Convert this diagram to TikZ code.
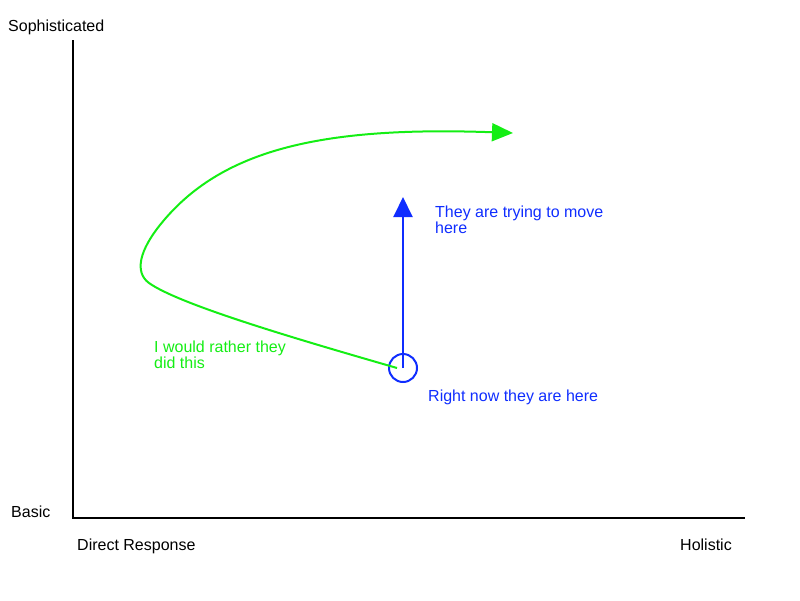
\documentclass[tikz,border=0pt]{standalone}
\usepackage{fontspec}
\setmainfont{Liberation Sans}
\usetikzlibrary{arrows.meta}
\definecolor{myblue}{RGB}{15,45,255}
\definecolor{mygreen}{RGB}{20,238,20}
\tikzset{
  lbl/.style={anchor=base west, inner sep=0pt, font=\fontsize{16}{16.5}\selectfont, align=left},
  axis/.style={line width=2pt, black},
  bluearrow/.style={line width=2pt, myblue, -{Triangle[length=20pt, width=19pt]}},
  greenarrow/.style={line width=2pt, mygreen, -{Triangle[length=21pt, width=18pt]}},
  ring/.style={circle, draw=myblue, line width=2pt, minimum size=28pt, inner sep=0pt}
}
\begin{document}
\begin{tikzpicture}[x=1pt,y=-1pt]
\useasboundingbox (0,0) rectangle (800,600);
% axes
\coordinate (top) at (73,40);
\coordinate (origin) at (73,518);
\coordinate (right) at (745,518);
\draw[axis] (top) -- (origin) -- (right);
% axis labels
\node[lbl] (soph) at (8,31) {Sophisticated};
\node[lbl] (basic) at (11,517) {Basic};
\node[lbl] (direct) at (77,550) {Direct Response};
\node[lbl] (holistic) at (680,550) {Holistic};
% current position
\node[ring] (now) at (403,368) {};
\coordinate (tip) at (403,197);
\draw[bluearrow] (now.center) -- (tip);
% green path
\coordinate (gstart) at (397,368);
\coordinate (gend) at (513,133);
\draw[greenarrow] (gstart) .. controls (300,340) and (180,305) .. (149,283)
  .. controls (134,272) and (140,250) .. (160,225)
  .. controls (220,150) and (320,126) .. (gend);
% texts
\node[lbl, text=myblue] (trying) at (435,233.5) {They are trying to move\\here};
\node[lbl, text=myblue] (rightnow) at (428,401) {Right now they are here};
\node[lbl, text=mygreen] (rather) at (154,368.5) {I would rather they\\did this};
\end{tikzpicture}
\end{document}
